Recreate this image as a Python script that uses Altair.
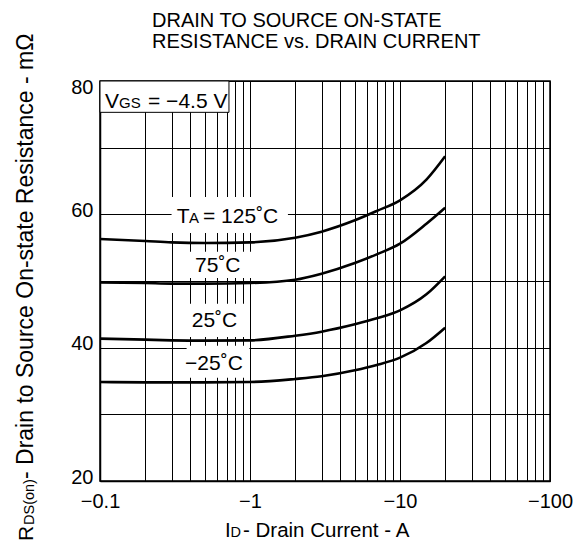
import altair as alt
import pandas as pd

FONT = "Liberation Sans"

# ---- curve data (ID magnitude in A, RDS(on) in mOhm) ----
current_a = [0.1, 0.2, 0.3, 0.5, 1, 2, 3, 5, 7, 10, 15, 20]
r_125 = [56.3, 56.0, 55.8, 55.7, 55.8, 56.5, 57.4, 59.1, 60.5, 62.1, 65.2, 68.7]
r_75 = [49.8, 49.7, 49.6, 49.6, 49.7, 50.2, 51.1, 52.7, 54.0, 55.6, 58.6, 61.0]
r_25 = [41.35, 41.2, 41.1, 41.05, 41.1, 41.8, 42.4, 43.5, 44.4, 45.6, 48.0, 50.7]
r_m25 = [34.85, 34.8, 34.8, 34.8, 34.85, 35.3, 35.7, 36.6, 37.4, 38.5, 40.7, 43.0]
series_names = ["125", "75", "25", "-25"]

# ---- axes ----
x_grid = [0.1, 0.2, 0.3, 0.4, 0.5, 0.6, 0.7, 0.8, 0.9,
          1, 2, 3, 4, 5, 6, 7, 8, 9,
          10, 20, 30, 40, 50, 60, 70, 80, 90, 100]
x_label_values = [0.1, 1, 10, 100]
x_label_texts = ["−0.1", "−1", "−10", "−100"]
y_grid = [20, 30, 40, 50, 60, 70, 80]
y_label_values = [20, 40, 60, 80]

# ---- annotations ----
main_text = ["V", "= −4.5 V", "T", "= 125˚C", "75˚C", "25˚C", "−25˚C"]
main_x = [0.108, 0.209, 0.325, 0.486, 0.430, 0.409, 0.369]
main_y = [75.9, 75.9, 58.65, 58.65, 51.4, 43.15, 36.65]
sub_text = ["GS", "A"]
sub_x = [0.1338, 0.392]
sub_y = [75.9, 58.65]

box_x1 = [0.30, 0.398, 0.39, 0.378]
box_x2 = [1.79, 1.02, 0.93, 0.99]
box_y1 = [57.2, 50.45, 41.6, 35.5]
box_y2 = [62.6, 54.4, 46.6, 40.3]
vgs_box = {"x1": [0.1], "x2": [0.724], "y1": [75.3], "y2": [80]}

title_lines = ["DRAIN TO SOURCE ON-STATE", "RESISTANCE vs. DRAIN CURRENT"]

rows = []
for name, vals in zip(series_names, [r_125, r_75, r_25, r_m25]):
    for i, r in zip(current_a, vals):
        rows.append({"s": name, "I": i, "R": r})
curves = pd.DataFrame(rows)

x_expr = " : ".join(
    f"datum.value == {v} ? '{t}'" for v, t in zip(x_label_values, x_label_texts)
) + " : ''"
y_expr = "indexof(%s, datum.value) >= 0 ? datum.label : ''" % str(y_label_values)

xscale = alt.Scale(type="log", domain=[0.1, 100], nice=False)
yscale = alt.Scale(domain=[20, 80], nice=False, zero=False)

x_enc = alt.X("I:Q", scale=xscale, axis=alt.Axis(
    values=x_grid, labelExpr=x_expr, grid=True, ticks=False, title=None,
    labelOverlap=False, labelFlush=False, labelPadding=10, labelBaseline="top"))
y_enc = alt.Y("R:Q", scale=yscale, axis=alt.Axis(
    values=y_grid, labelExpr=y_expr, grid=True, ticks=False, title=None,
    labelOverlap=False, labelFlush=False, labelPadding=7,
    labelBaseline={"condition": {"test": "datum.value == 80", "value": "top"}, "value": "middle"},
    labelOffset=-4))

lines = alt.Chart(curves).mark_line(
    color="black", strokeWidth=2.6, interpolate="monotone"
).encode(x=x_enc, y=y_enc, detail="s:N")

boxes = alt.Chart(pd.DataFrame({"x1": box_x1, "x2": box_x2, "y1": box_y1, "y2": box_y2})).mark_rect(
    color="white"
).encode(x=alt.X("x1:Q", scale=xscale), x2="x2:Q", y=alt.Y("y1:Q", scale=yscale), y2="y2:Q")

vbox = alt.Chart(pd.DataFrame(vgs_box)).mark_rect(
    fill="white", stroke="black", strokeWidth=1
).encode(x=alt.X("x1:Q", scale=xscale), x2="x2:Q", y=alt.Y("y1:Q", scale=yscale), y2="y2:Q")

mtext = alt.Chart(pd.DataFrame({"t": main_text, "x": main_x, "y": main_y})).mark_text(
    font=FONT, fontSize=21, align="left", baseline="alphabetic", color="black"
).encode(x=alt.X("x:Q", scale=xscale), y=alt.Y("y:Q", scale=yscale), text="t:N")

stext = alt.Chart(pd.DataFrame({"t": sub_text, "x": sub_x, "y": sub_y})).mark_text(
    font=FONT, fontSize=15, align="left", baseline="alphabetic", color="black"
).encode(x=alt.X("x:Q", scale=xscale), y=alt.Y("y:Q", scale=yscale), text="t:N")

# axis titles with subscripts (placed as text pieces outside the plot)
xt1 = alt.Chart().mark_text(text="I", font=FONT, fontSize=20.5, align="left", baseline="alphabetic").encode(
    x=alt.value(125), y=alt.value(456))
xt2 = alt.Chart().mark_text(text="D", font=FONT, fontSize=14.5, align="left", baseline="alphabetic").encode(
    x=alt.value(130.5), y=alt.value(456))
xt3 = alt.Chart().mark_text(text=" - Drain Current - A", font=FONT, fontSize=20.5, align="left", baseline="alphabetic").encode(
    x=alt.value(143), y=alt.value(456))

yt1 = alt.Chart().mark_text(text="R", font=FONT, fontSize=21, align="left", baseline="alphabetic", angle=270).encode(
    x=alt.value(-67), y=alt.value(460))
yt2 = alt.Chart().mark_text(text="DS(on)", font=FONT, fontSize=14.5, align="left", baseline="alphabetic", angle=270).encode(
    x=alt.value(-66), y=alt.value(444))
yt3 = alt.Chart().mark_text(text=" - Drain to Source On-state Resistance - mΩ", font=FONT, fontSize=23, align="left", baseline="alphabetic", angle=270).encode(
    x=alt.value(-67), y=alt.value(398))

tt1 = alt.Chart().mark_text(text=title_lines[0], font=FONT, fontSize=20, align="left", baseline="alphabetic").encode(
    x=alt.value(52), y=alt.value(-54.5))
tt2 = alt.Chart().mark_text(text=title_lines[1], font=FONT, fontSize=20, align="left", baseline="alphabetic").encode(
    x=alt.value(52), y=alt.value(-33))

chart = alt.layer(
    lines, boxes, vbox, mtext, stext, xt1, xt2, xt3, yt1, yt2, yt3, tt1, tt2
).properties(
    width=450, height=400,
    autosize=alt.AutoSizeParams(type="none"),
    padding={"left": 92, "top": 73, "right": 30, "bottom": 61},
).configure_view(
    stroke="black", strokeWidth=1.5
).configure_axis(
    domainColor="black", domainWidth=1.5, gridColor="black", gridOpacity=1, gridWidth=1,
    labelFont=FONT, labelFontSize=20, labelColor="black"
)

chart.save("out.html", embed_options={"renderer": "svg", "actions": False})
